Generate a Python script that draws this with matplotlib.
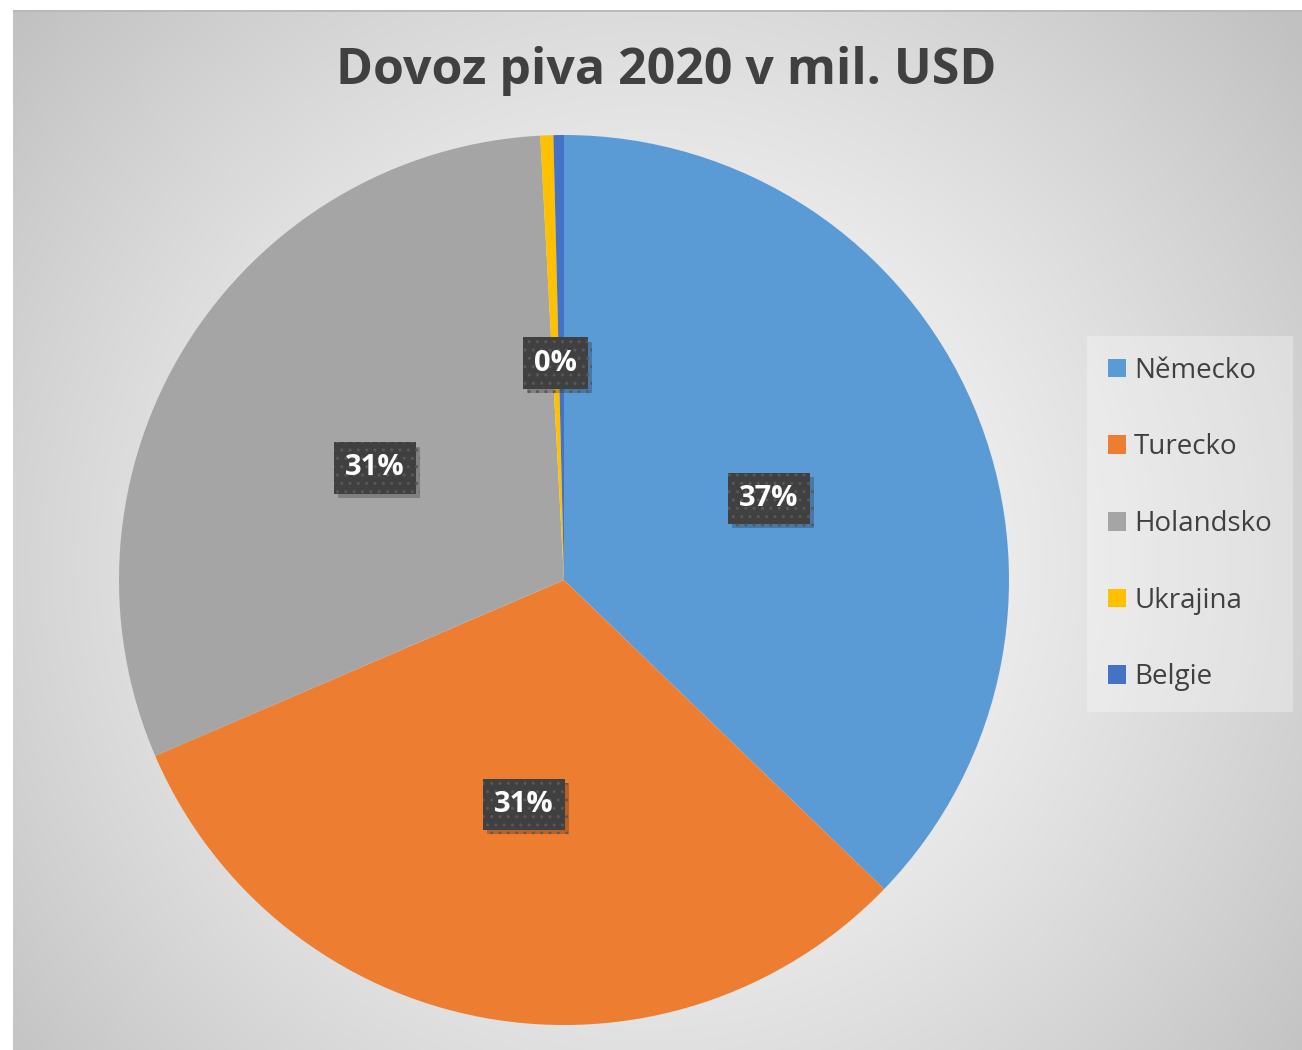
import numpy as np
import matplotlib
matplotlib.use("Agg")
import matplotlib.pyplot as plt
import matplotlib.patheffects as pe

plt.rcParams['font.family'] = ['Open Sans', 'DejaVu Sans']

# dovoz piva 2020 (odhad z obrazku, podily)
countries = ["Německo", "Turecko", "Holandsko", "Ukrajina", "Belgie"]
values = [37.2, 31.3, 30.6, 0.47, 0.38]
colors = ["#5B9BD5", "#ED7D31", "#A5A5A5", "#FFC000", "#4472C4"]
title = "Dovoz piva 2020 v mil. USD"

W, H = 1302, 1050
fig = plt.figure(figsize=(W / 100, H / 100), dpi=100)

# pozadi - radialni prechod
bg = fig.add_axes([13 / W, 0, 1 - 13 / W, 1 - 10 / H])
yy, xx = np.mgrid[0:400, 0:500]
cx, cy = 500 * (650 - 13) / 1289, 400 * (560 - 10) / 1040
r = np.hypot((xx - cx) * 1289 / 500, (yy - cy) * 1040 / 400)
g = 1.0 - 0.24 * np.clip(r / 830, 0, 1) ** 1.3
bg.imshow(np.dstack([g, g, g]), extent=[0, 1, 0, 1], aspect="auto", origin="upper")
bg.set_xlim(0, 1)
bg.set_ylim(0, 1)
bg.axis("off")
bg.axhline(1, color="#b8b8b8", lw=2)

# kolac
ax = fig.add_axes([(564 - 445) / W, (H - 580 - 445) / H, 890 / W, 890 / H])
wedges, texts, autotexts = ax.pie(values, colors=colors, startangle=90,
                                  counterclock=False, autopct="%.0f%%",
                                  pctdistance=0.5, radius=1)
ax.set_xlim(-1, 1)
ax.set_ylim(-1, 1)
ax.set_aspect("equal")

for i, t in enumerate(autotexts):
    if countries[i] == "Belgie":
        t.set_visible(False)
        continue
    x, y = t.get_position()
    t.set_position((x, y - 0.012))
    t.set_color("white")
    t.set_fontsize(21)
    t.set_fontweight("bold")
    t.set_bbox(dict(boxstyle="square,pad=0.38", facecolor="#404040",
                    edgecolor="#585858", hatch="..", linewidth=0))
    t.get_bbox_patch().set_path_effects([
        pe.SimplePatchShadow(offset=(3, -3), shadow_rgbFace="black", alpha=0.22),
        pe.Normal()])

fig.text(0.512, 1 - 71 / H, title, ha="center", va="center", fontsize=36,
         fontweight="bold", color="#404040")

leg = fig.legend(wedges, countries, loc="center left",
                 bbox_to_anchor=(1087 / W, 1 - 524 / H), fontsize=20,
                 frameon=True, fancybox=False, labelspacing=1.75,
                 handlelength=0.65, handleheight=0.65, handletextpad=0.3,
                 borderpad=0.75, borderaxespad=0)
leg.get_frame().set_facecolor("white")
leg.get_frame().set_alpha(0.3)
leg.get_frame().set_linewidth(0)
for t in leg.get_texts():
    t.set_color("#404040")

plt.savefig("out.png", dpi=100)
